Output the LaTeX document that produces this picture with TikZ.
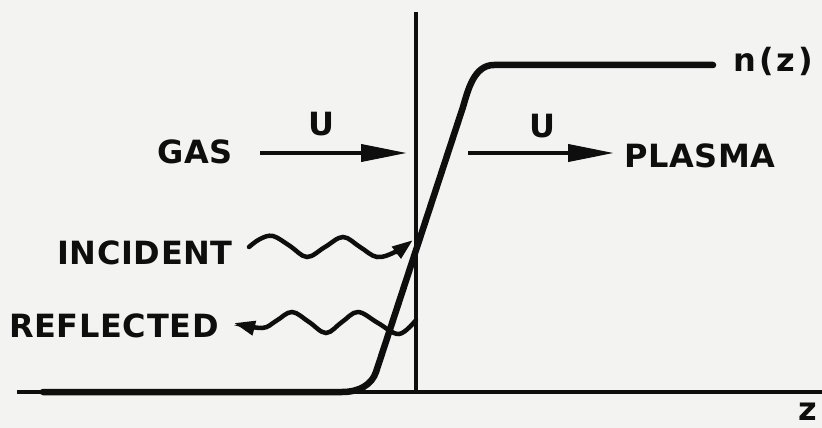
\documentclass[tikz,border=0pt]{standalone}
\usepackage{fontspec}
\usetikzlibrary{arrows.meta}
\newfontfamily\lett[LetterSpace=2]{DejaVu Sans Bold}
\newfontfamily\lettw[LetterSpace=10]{DejaVu Sans Bold}
\definecolor{paper}{RGB}{243,243,241}
\definecolor{ink}{RGB}{14,14,14}
\begin{document}
\begin{tikzpicture}[x=1pt,y=-1pt,
  lbl/.style={inner sep=0pt, anchor=base west, text=ink, font=\lett\fontsize{32}{32}\selectfont},
  lblw/.style={lbl, font=\lettw\fontsize{32}{32}\selectfont},
  axisline/.style={draw=ink, line width=4pt},
  profile/.style={draw=ink, line width=6.5pt, line join=round, line cap=round},
  bigarrow/.style={draw=ink, line width=4pt, -{Triangle[length=46pt,width=17pt]}},
  wave/.style={draw=ink, line width=4.5pt, line cap=round, -{Triangle[length=21pt,width=14pt]}}]
\fill[paper] (0,0) rectangle (822,428);
\useasboundingbox (0,0) rectangle (822,428);

% axes
\coordinate (axL) at (17,392);
\coordinate (axR) at (822,392);
\coordinate (vT) at (416,12);
\coordinate (vB) at (416,392);
\draw[axisline] (axL) -- (axR);
\draw[axisline] (vT) -- (vB);

% density profile n(z)
\draw[profile] (43,392) -- (342,392) .. controls (360,392) and (372,384) .. (376,372)
  -- (463,107) .. controls (468,90) and (474,65) .. (494,65) -- (713,65);

% labels
\node[lblw] (nz) at (733,72) {n(z)};
\node[lbl] (zl) at (798,420) {z};
\node[lbl] (gas) at (157,163) {GAS};
\node[lbl] (plasma) at (624,167) {PLASMA};
\node[lbl] (inc) at (57,264) {INCIDENT};
\node[lbl] (refl) at (9,337) {REFLECTED};
\node[lbl, anchor=base] (u1) at (321,135) {U};
\node[lbl, anchor=base] (u2) at (542,137) {U};

% flow arrows
\coordinate (a1s) at (260,153);
\coordinate (a1e) at (407,153);
\coordinate (a2s) at (468,153);
\coordinate (a2e) at (614,153);
\draw[bigarrow] (a1s) -- (a1e);
\draw[bigarrow] (a2s) -- (a2e);

% incident wave
\draw[wave] plot[smooth, tension=0.6] coordinates {(249,247) (260,239) (273,236) (290,246) (307,257) (325,247) (343,237) (360,247) (377,257) (395,252) (413,240)};

% reflected wave
\draw[wave] plot[smooth, tension=0.6] coordinates {(416,320) (399,334) (378,323) (358,312) (342,322) (326,333) (309,322) (292,312) (276,321) (262,328) (234,323)};
\end{tikzpicture}
\end{document}
